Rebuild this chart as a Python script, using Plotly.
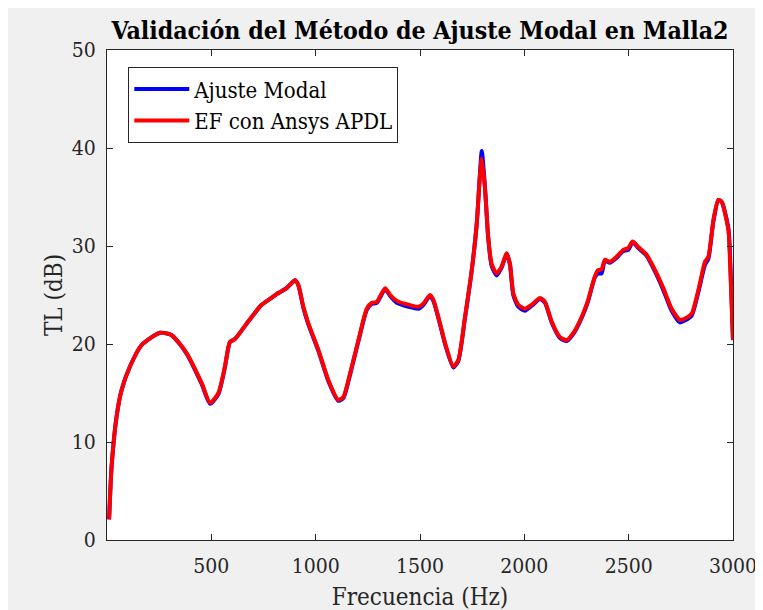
import plotly.graph_objects as go

# frecuencia (Hz) y TL (dB)
freq = [10, 22, 46, 70, 110, 166, 254, 310, 382, 454, 494, 534, 565, 589, 613, 677,
        741, 781, 821, 861, 901, 917, 941, 965, 1013, 1061, 1108, 1133, 1165, 1205,
        1245, 1269, 1293, 1333, 1357, 1389, 1445, 1493, 1517, 1548, 1564, 1596, 1620,
        1660, 1684, 1716, 1748, 1772, 1787, 1796, 1811, 1827, 1843, 1867, 1891, 1915,
        1931, 1947, 1971, 2003, 2035, 2075, 2099, 2131, 2171, 2203, 2243, 2267, 2291,
        2306, 2338, 2354, 2370, 2386, 2410, 2442, 2474, 2498, 2519, 2546, 2586, 2626,
        2666, 2706, 2746, 2770, 2802, 2834, 2866, 2882, 2906, 2930, 2946, 2978, 2986,
        3000]

tl_ef = [2.1, 7.5, 12.6, 15.3, 17.7, 19.9, 21.15, 20.9, 19.05, 16.0, 14.0, 15.0, 17.7,
         20.2, 20.5, 22.3, 24.0, 24.6, 25.2, 25.7, 26.5, 26.0, 23.8, 22.1, 19.4, 16.3,
         14.3, 14.6, 17.0, 20.4, 23.6, 24.2, 24.3, 25.7, 25.0, 24.4, 24.0, 23.8, 24.15,
         25.0, 24.5, 22.1, 20.1, 17.7, 18.4, 22.8, 27.55, 32.3, 37.1, 38.9, 36.0, 30.9,
         28.2, 27.2, 27.9, 29.25, 28.2, 25.2, 24.0, 23.6, 24.0, 24.7, 24.3, 22.3, 20.7,
         20.4, 21.4, 22.4, 23.6, 24.5, 26.9, 27.55, 27.6, 28.6, 28.4, 28.9, 29.6, 29.8,
         30.45, 29.9, 29.1, 27.55, 25.7, 23.6, 22.45, 22.6, 23.1, 25.5, 28.4, 28.9,
         32.65, 34.7, 34.5, 31.6, 28.3, 20.4]

tl_modal = [2.1, 7.5, 12.6, 15.3, 17.7, 19.9, 21.15, 20.9, 19.0, 15.9, 13.9, 14.9, 17.6,
            20.2, 20.5, 22.3, 24.0, 24.6, 25.2, 25.7, 26.5, 26.0, 23.7, 22.0, 19.3, 16.2,
            14.2, 14.5, 16.9, 20.3, 23.5, 24.1, 24.2, 25.6, 24.9, 24.2, 23.8, 23.6, 24.0,
            24.9, 24.4, 22.0, 20.0, 17.6, 18.3, 22.7, 27.5, 32.3, 37.3, 39.7, 36.1, 30.8,
            28.0, 27.0, 27.8, 29.2, 28.1, 25.0, 23.8, 23.4, 23.9, 24.6, 24.2, 22.2, 20.6,
            20.3, 21.3, 22.3, 23.5, 24.4, 26.8, 27.2, 27.2, 28.5, 28.3, 28.8, 29.5, 29.6,
            30.4, 29.8, 29.0, 27.4, 25.5, 23.4, 22.2, 22.4, 22.9, 25.3, 28.1, 28.7,
            32.5, 34.7, 34.5, 31.8, 29.0, 20.4]

x_ticks = [500, 1000, 1500, 2000, 2500, 3000]
y_ticks = [0, 10, 20, 30, 40, 50]

fuente = "DejaVu Serif Condensed"
eje = "#262626"

fig = go.Figure()
fig.add_trace(go.Scatter(x=freq, y=tl_modal, mode="lines", name="Ajuste Modal",
                         line=dict(color="#0000ff", width=4, shape="spline", smoothing=0.6)))
fig.add_trace(go.Scatter(x=freq, y=tl_ef, mode="lines", name="EF con Ansys APDL",
                         line=dict(color="#ff0000", width=4, shape="spline", smoothing=0.6)))

fig.update_layout(
    width=763, height=610,
    margin=dict(l=99, r=38, t=42, b=78),
    paper_bgcolor="#f0f0f0", plot_bgcolor="white",
    font=dict(family=fuente, size=21, color=eje),
    title=dict(text="<b>Validación del Método de Ajuste Modal en Malla2</b>",
               x=0.5, xref="paper", xanchor="center", y=0.964, yanchor="middle",
               font=dict(family=fuente, size=24.7, color="black")),
    legend=dict(x=0.034, y=0.965, xanchor="left", yanchor="top",
                bgcolor="white", bordercolor=eje, borderwidth=1,
                font=dict(family=fuente, size=22, color="black"),
                itemwidth=55, tracegroupgap=0),
    showlegend=True,
)
fig.update_xaxes(range=[0, 3000], tickvals=x_ticks, ticks="inside", ticklen=6,
                 tickcolor=eje, showline=True, linecolor=eje, linewidth=1, mirror="ticks",
                 showgrid=False, zeroline=False, ticklabelstandoff=7,
                 title=dict(text="Frecuencia (Hz)", font=dict(size=24), standoff=10))
fig.update_yaxes(range=[0, 50], tickvals=y_ticks, ticks="inside", ticklen=6,
                 tickcolor=eje, showline=True, linecolor=eje, linewidth=1, mirror="ticks",
                 showgrid=False, zeroline=False, ticklabelstandoff=6,
                 title=dict(text="TL (dB)", font=dict(size=24), standoff=2))

fig.write_html("out.html")
